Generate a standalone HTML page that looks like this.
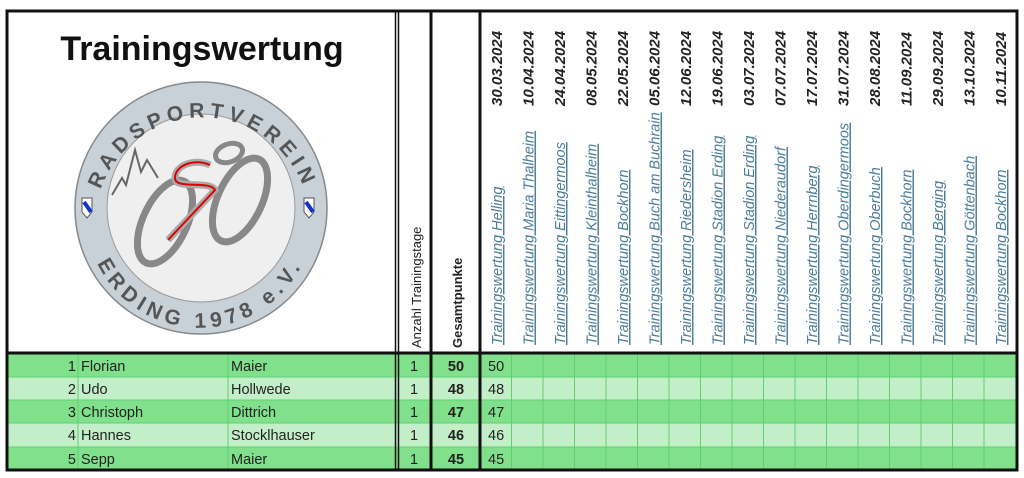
<!DOCTYPE html>
<html><head><meta charset="utf-8"><style>
html,body{margin:0;padding:0;background:#fff;width:1024px;height:478px;overflow:hidden}
svg{display:block}
</style></head><body>
<svg width="1024" height="478" viewBox="0 0 1024 478" xmlns="http://www.w3.org/2000/svg" font-family="Liberation Sans, sans-serif">
<g>
<rect x="8" y="354" width="1009" height="23" fill="#80e08c"/>
<rect x="8" y="377" width="1009" height="23" fill="#c3efc8"/>
<rect x="8" y="400" width="1009" height="23" fill="#80e08c"/>
<rect x="8" y="423" width="1009" height="24" fill="#c3efc8"/>
<rect x="8" y="447" width="1009" height="23" fill="#80e08c"/>
</g>
<g stroke="#5fcf70" stroke-width="1">
<line x1="8" y1="377" x2="1017" y2="377"/><line x1="8" y1="400" x2="1017" y2="400"/>
<line x1="8" y1="423" x2="1017" y2="423"/><line x1="8" y1="447" x2="1017" y2="447"/>
<line x1="78" y1="354" x2="78" y2="470"/><line x1="228" y1="354" x2="228" y2="470"/>
<line x1="511.5" y1="354" x2="511.5" y2="470"/><line x1="543" y1="354" x2="543" y2="470"/>
<line x1="574.5" y1="354" x2="574.5" y2="470"/><line x1="606" y1="354" x2="606" y2="470"/>
<line x1="637.5" y1="354" x2="637.5" y2="470"/><line x1="669" y1="354" x2="669" y2="470"/>
<line x1="700.5" y1="354" x2="700.5" y2="470"/><line x1="732" y1="354" x2="732" y2="470"/>
<line x1="763.5" y1="354" x2="763.5" y2="470"/><line x1="795" y1="354" x2="795" y2="470"/>
<line x1="826.5" y1="354" x2="826.5" y2="470"/><line x1="858" y1="354" x2="858" y2="470"/>
<line x1="889.5" y1="354" x2="889.5" y2="470"/><line x1="921" y1="354" x2="921" y2="470"/>
<line x1="952.5" y1="354" x2="952.5" y2="470"/><line x1="984" y1="354" x2="984" y2="470"/>
</g>
<rect x="7" y="11" width="1010" height="459" fill="none" stroke="#111" stroke-width="3"/>
<line x1="7" y1="353" x2="1017" y2="353" stroke="#111" stroke-width="3"/>
<line x1="395.5" y1="11" x2="395.5" y2="470" stroke="#111" stroke-width="1.5"/>
<line x1="398.5" y1="11" x2="398.5" y2="470" stroke="#111" stroke-width="1.5"/>
<line x1="431" y1="11" x2="431" y2="470" stroke="#111" stroke-width="3"/>
<line x1="480" y1="11" x2="480" y2="470" stroke="#111" stroke-width="3"/>

<text x="202" y="60" font-size="34" font-weight="bold" text-anchor="middle" fill="#111">Trainingswertung</text>

<defs>
<path id="top" d="M 95 215 A 108 108 0 0 1 310 215"/>
<path id="bot" d="M 88 235 A 114 114 0 0 0 312 235"/>
</defs>
<circle cx="201" cy="208" r="126" fill="#c8d0d8" stroke="#888" stroke-width="1.5"/>
<circle cx="201" cy="208" r="94" fill="#efefef" stroke="#999" stroke-width="1"/>
<text font-size="21" font-weight="bold" fill="#555" letter-spacing="5"><textPath href="#top" startOffset="50%" text-anchor="middle">RADSPORTVEREIN</textPath></text>
<text font-size="21" font-weight="bold" fill="#555" letter-spacing="5"><textPath href="#bot" startOffset="50%" text-anchor="middle">ERDING 1978 e.V.</textPath></text>
<path d="M112 195 L122 178 L126 185 L135 150 L141 172 L147 160 L158 178" fill="none" stroke="#666" stroke-width="2"/>
<ellipse cx="165" cy="222" rx="22" ry="45" transform="rotate(25 165 222)" fill="none" stroke="#888" stroke-width="7"/>
<ellipse cx="240" cy="200" rx="22" ry="45" transform="rotate(25 240 200)" fill="none" stroke="#888" stroke-width="7"/>
<ellipse cx="229" cy="153" rx="14" ry="9" transform="rotate(-20 229 153)" fill="none" stroke="#888" stroke-width="5"/>
<path d="M210 165 C195 158 175 165 175 178 C175 190 210 180 215 190 L168 240" fill="none" stroke="#aaa" stroke-width="7"/>
<path d="M210 165 C195 158 175 165 175 178 C175 190 210 180 215 190 L168 240" fill="none" stroke="#d00" stroke-width="2"/>
<path d="M82 198 L92 198 L92 212 L87 218 L82 212 Z" fill="#fff" stroke="#555"/>
<path d="M84 202 L91 212" stroke="#13c" stroke-width="4"/>
<path d="M304 198 L314 198 L314 212 L309 218 L304 212 Z" fill="#fff" stroke="#555"/>
<path d="M306 202 L313 212" stroke="#13c" stroke-width="4"/>

<text transform="translate(421 348) rotate(-90)" font-size="13" fill="#222">Anzahl Trainingstage</text>
<text transform="translate(462 348) rotate(-90)" font-size="13" font-weight="bold" fill="#222">Gesamtpunkte</text>

<g font-size="15" font-weight="bold" font-style="italic" fill="#222">
<text transform="translate(502 106) rotate(-90)">30.03.2024</text>
<text transform="translate(533.5 106) rotate(-90)">10.04.2024</text>
<text transform="translate(565 106) rotate(-90)">24.04.2024</text>
<text transform="translate(596.5 106) rotate(-90)">08.05.2024</text>
<text transform="translate(628 106) rotate(-90)">22.05.2024</text>
<text transform="translate(659.5 106) rotate(-90)">05.06.2024</text>
<text transform="translate(691 106) rotate(-90)">12.06.2024</text>
<text transform="translate(722.5 106) rotate(-90)">19.06.2024</text>
<text transform="translate(754 106) rotate(-90)">03.07.2024</text>
<text transform="translate(785.5 106) rotate(-90)">07.07.2024</text>
<text transform="translate(817 106) rotate(-90)">17.07.2024</text>
<text transform="translate(848.5 106) rotate(-90)">31.07.2024</text>
<text transform="translate(880 106) rotate(-90)">28.08.2024</text>
<text transform="translate(911.5 106) rotate(-90)">11.09.2024</text>
<text transform="translate(943 106) rotate(-90)">29.09.2024</text>
<text transform="translate(974.5 106) rotate(-90)">13.10.2024</text>
<text transform="translate(1006 106) rotate(-90)">10.11.2024</text>
</g>
<g font-size="14.5" font-style="italic" fill="#4a7d98" text-decoration="underline">
<text transform="translate(502 345) rotate(-90)">Trainingswertung Helling</text>
<text transform="translate(533.5 345) rotate(-90)">Trainingswertung Maria Thalheim</text>
<text transform="translate(565 345) rotate(-90)">Trainingswertung Eittingermoos</text>
<text transform="translate(596.5 345) rotate(-90)">Trainingswertung Kleinthalheim</text>
<text transform="translate(628 345) rotate(-90)">Trainingswertung Bockhorn</text>
<text transform="translate(659.5 345) rotate(-90)">Trainingswertung Buch am Buchrain</text>
<text transform="translate(691 345) rotate(-90)">Trainingswertung Riedersheim</text>
<text transform="translate(722.5 345) rotate(-90)">Trainingswertung Stadion Erding</text>
<text transform="translate(754 345) rotate(-90)">Trainingswertung Stadion Erding</text>
<text transform="translate(785.5 345) rotate(-90)">Trainingswertung Niederaudorf</text>
<text transform="translate(817 345) rotate(-90)">Trainingswertung Herrnberg</text>
<text transform="translate(848.5 345) rotate(-90)">Trainingswertung Oberdingermoos</text>
<text transform="translate(880 345) rotate(-90)">Trainingswertung Oberbuch</text>
<text transform="translate(911.5 345) rotate(-90)">Trainingswertung Bockhorn</text>
<text transform="translate(943 345) rotate(-90)">Trainingswertung Berging</text>
<text transform="translate(974.5 345) rotate(-90)">Trainingswertung Göttenbach</text>
<text transform="translate(1006 345) rotate(-90)">Trainingswertung Bockhorn</text>
</g>

<g font-size="14.5" fill="#222">
<text x="76" y="371" text-anchor="end">1</text><text x="81" y="371">Florian</text><text x="231" y="371">Maier</text>
<text x="76" y="394" text-anchor="end">2</text><text x="81" y="394">Udo</text><text x="231" y="394">Hollwede</text>
<text x="76" y="417" text-anchor="end">3</text><text x="81" y="417">Christoph</text><text x="231" y="417">Dittrich</text>
<text x="76" y="440" text-anchor="end">4</text><text x="81" y="440">Hannes</text><text x="231" y="440">Stocklhauser</text>
<text x="76" y="464" text-anchor="end">5</text><text x="81" y="464">Sepp</text><text x="231" y="464">Maier</text>
<g text-anchor="middle">
<text x="414" y="371">1</text><text x="414" y="394">1</text><text x="414" y="417">1</text><text x="414" y="440">1</text><text x="414" y="464">1</text>
</g>
<g text-anchor="middle" font-weight="bold">
<text x="456" y="371">50</text><text x="456" y="394">48</text><text x="456" y="417">47</text><text x="456" y="440">46</text><text x="456" y="464">45</text>
</g>
<text x="488" y="371">50</text><text x="488" y="394">48</text><text x="488" y="417">47</text><text x="488" y="440">46</text><text x="488" y="464">45</text>
</g>
</svg>
</body></html>
